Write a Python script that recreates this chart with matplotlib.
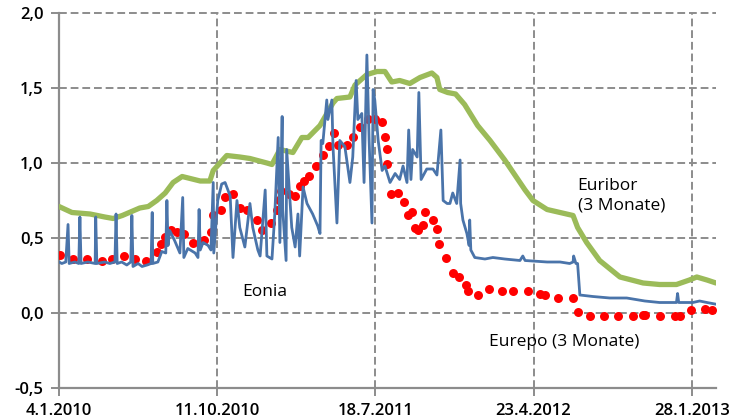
import numpy as np
import matplotlib
matplotlib.use("Agg")
import matplotlib.pyplot as plt

# Tage seit 4.1.2010 und Zinssaetze in %
euribor_tage = [0, 23, 55, 81, 96, 112, 143, 158, 173, 188, 202, 218, 250, 267, 273, 297,
                320, 338, 368, 377, 391, 414, 430, 441, 462, 485, 492, 515, 524, 545, 563,
                577, 589, 603, 621, 639, 660, 669, 674, 688, 702, 718, 741, 763, 789, 807,
                825, 839, 864, 887, 910, 918, 934, 957, 993, 1034, 1063, 1093, 1116, 1129,
                1147, 1163]
euribor = [0.71, 0.67, 0.66, 0.64, 0.63, 0.65, 0.70, 0.71, 0.75, 0.80, 0.87, 0.91, 0.88,
           0.88, 0.95, 1.05, 1.04, 1.03, 1.00, 0.99, 1.09, 1.07, 1.17, 1.17, 1.25, 1.40,
           1.43, 1.44, 1.52, 1.59, 1.61, 1.61, 1.54, 1.55, 1.53, 1.57, 1.60, 1.57, 1.49,
           1.47, 1.46, 1.39, 1.25, 1.15, 1.02, 0.92, 0.82, 0.75, 0.69, 0.67, 0.65, 0.57,
           0.47, 0.35, 0.24, 0.20, 0.19, 0.19, 0.22, 0.24, 0.22, 0.20]

eonia_tage = [0, 5, 12, 16, 18, 28, 35, 37, 39, 51,
              64, 65, 67, 81, 90, 99, 101, 103, 111, 120,
              127, 129, 131, 140, 147, 156, 163, 165, 166, 175,
              182, 189, 191, 193, 196, 205, 214, 219, 221, 228,
              241, 246, 248, 250, 255, 264, 269, 273, 274, 281,
              288, 294, 303, 308, 315, 320, 329, 338, 343, 352,
              356, 365, 368, 377, 382, 388, 391, 395, 396, 402,
              403, 412, 418, 423, 426, 432, 439, 449, 458, 462,
              464, 467, 474, 476, 483, 485, 492, 497, 506, 515,
              520, 526, 529, 536, 540, 545, 549, 554, 556, 559,
              565, 572, 577, 586, 595, 603, 609, 616, 619, 623,
              626, 634, 637, 641, 651, 662, 669, 676, 680, 687,
              692, 697, 704, 710, 711, 715, 722, 726, 727, 729,
              736, 754, 768, 789, 816, 821, 825, 864, 887, 904,
              910, 911, 915, 918, 922, 945, 975, 1005, 1037, 1063,
              1093, 1095, 1097, 1122, 1134, 1147, 1161]
eonia = [0.34, 0.33, 0.34, 0.59, 0.33, 0.34, 0.33, 0.64, 0.33, 0.34,
         0.33, 0.64, 0.33, 0.34, 0.33, 0.34, 0.66, 0.33, 0.34, 0.32,
         0.34, 0.65, 0.31, 0.33, 0.31, 0.32, 0.33, 0.67, 0.33, 0.34,
         0.41, 0.40, 0.75, 0.45, 0.55, 0.48, 0.40, 0.77, 0.37, 0.43,
         0.40, 0.37, 0.69, 0.42, 0.47, 0.45, 0.42, 0.87, 0.40, 0.75,
         0.86, 0.87, 0.78, 0.37, 0.75, 0.57, 0.44, 0.73, 0.57, 0.42,
         0.38, 0.82, 0.38, 0.36, 0.66, 1.17, 0.47, 1.31, 0.69, 0.35,
         1.09, 0.57, 0.44, 0.66, 0.38, 0.84, 0.73, 0.66, 0.58, 0.53,
         1.15, 1.13, 1.42, 1.29, 1.42, 1.11, 0.60, 1.15, 1.11, 0.87,
         1.04, 1.55, 1.29, 1.33, 0.87, 1.72, 1.15, 0.60, 1.49, 1.42,
         1.15, 0.95, 0.98, 0.87, 0.93, 0.89, 0.98, 0.87, 1.22, 0.89,
         1.09, 1.04, 1.47, 0.89, 0.96, 0.96, 0.92, 1.22, 0.75, 0.73,
         0.73, 0.80, 0.73, 1.02, 0.73, 0.62, 0.53, 0.45, 0.62, 0.42,
         0.37, 0.36, 0.37, 0.36, 0.35, 0.38, 0.35, 0.34, 0.34, 0.33,
         0.34, 0.38, 0.33, 0.33, 0.12, 0.11, 0.10, 0.10, 0.08, 0.07,
         0.07, 0.13, 0.07, 0.07, 0.08, 0.07, 0.06]

eurepo_tage = [2, 25, 50, 76, 94, 115, 134, 154, 173, 180, 188, 198, 209, 221, 237, 257,
               269, 272, 287, 294, 308, 320, 333, 350, 359, 375, 386, 389, 393, 407, 418,
               426, 434, 442, 455, 467, 478, 487, 494, 510, 520, 533, 547, 559, 572, 577,
               580, 581, 588, 600, 611, 618, 625, 630, 635, 644, 648, 662, 669, 672, 685,
               697, 708, 720, 724, 741, 761, 784, 803, 830, 851, 860, 883, 910, 918, 940,
               964, 989, 1016, 1034, 1037, 1063, 1090, 1099, 1118, 1143, 1156]
eurepo = [0.39, 0.36, 0.36, 0.35, 0.36, 0.38, 0.36, 0.35, 0.41, 0.46, 0.51, 0.55, 0.54,
          0.53, 0.47, 0.49, 0.54, 0.65, 0.69, 0.77, 0.79, 0.70, 0.69, 0.62, 0.55, 0.60,
          0.69, 0.75, 0.81, 0.79, 0.78, 0.85, 0.88, 0.91, 0.98, 1.05, 1.11, 1.20, 1.12,
          1.12, 1.17, 1.24, 1.29, 1.29, 1.27, 1.17, 1.09, 0.99, 0.79, 0.80, 0.74, 0.65,
          0.67, 0.57, 0.55, 0.59, 0.67, 0.62, 0.56, 0.46, 0.37, 0.27, 0.24, 0.19, 0.15,
          0.12, 0.16, 0.15, 0.15, 0.15, 0.13, 0.12, 0.10, 0.10, 0.01, -0.02, -0.02, -0.02,
          -0.02, -0.01, -0.01, -0.02, -0.02, -0.02, 0.02, 0.03, 0.02]

x_ticks = [0, 280, 560, 840, 1120]
x_labels = ["4.1.2010", "11.10.2010", "18.7.2011", "23.4.2012", "28.1.2013"]
y_ticks = [-0.5, 0.0, 0.5, 1.0, 1.5, 2.0]
y_labels = ["-0,5", "0,0", "0,5", "1,0", "1,5", "2,0"]

plt.rcParams["font.family"] = ["Open Sans", "DejaVu Sans"]

fig = plt.figure(figsize=(7.32, 4.2), dpi=100)
ax = fig.add_axes([59 / 732, 32 / 420, 657 / 732, 375 / 420])

grau = "#8c8c8c"
ax.plot(euribor_tage, euribor, color="#9bbb59", lw=3.8, solid_capstyle="round", zorder=3)
ax.scatter(eurepo_tage, eurepo, s=42, color="#ff0000", linewidths=0, zorder=4)
ax.plot(eonia_tage, eonia, color="#4a74aa", lw=2.0, zorder=5)

ax.set_xlim(0, 1163)
ax.set_ylim(-0.5, 2.0)
ax.set_xticks(x_ticks)
ax.set_xticklabels(x_labels)
ax.set_yticks(y_ticks)
ax.set_yticklabels(y_labels)

for y in y_ticks[1:]:
    ax.axhline(y, color=grau, lw=1.4, ls=(0, (4, 2)), zorder=1, clip_on=False)
for x in x_ticks[1:]:
    ax.axvline(x, color=grau, lw=1.4, ls=(0, (4, 2)), zorder=1, clip_on=False)

for s in ["top", "right"]:
    ax.spines[s].set_visible(False)
for s in ["left", "bottom"]:
    ax.spines[s].set_color(grau)
    ax.spines[s].set_linewidth(1.6)
ax.tick_params(axis="both", colors=grau, width=1.4, length=6, labelcolor="black",
               labelsize=12, pad=5)
for lab in ax.get_xticklabels() + ax.get_yticklabels():
    lab.set_fontweight("semibold")

ax.text(365, 0.14, "Eonia", fontsize=12.5, ha="center", va="center")
ax.text(918, 0.78, "Euribor\n(3 Monate)", fontsize=12.5, ha="left", va="center",
        linespacing=1.25)
ax.text(761, -0.19, "Eurepo (3 Monate)", fontsize=12.5, ha="left", va="center")

fig.savefig("out.png", dpi=100)
